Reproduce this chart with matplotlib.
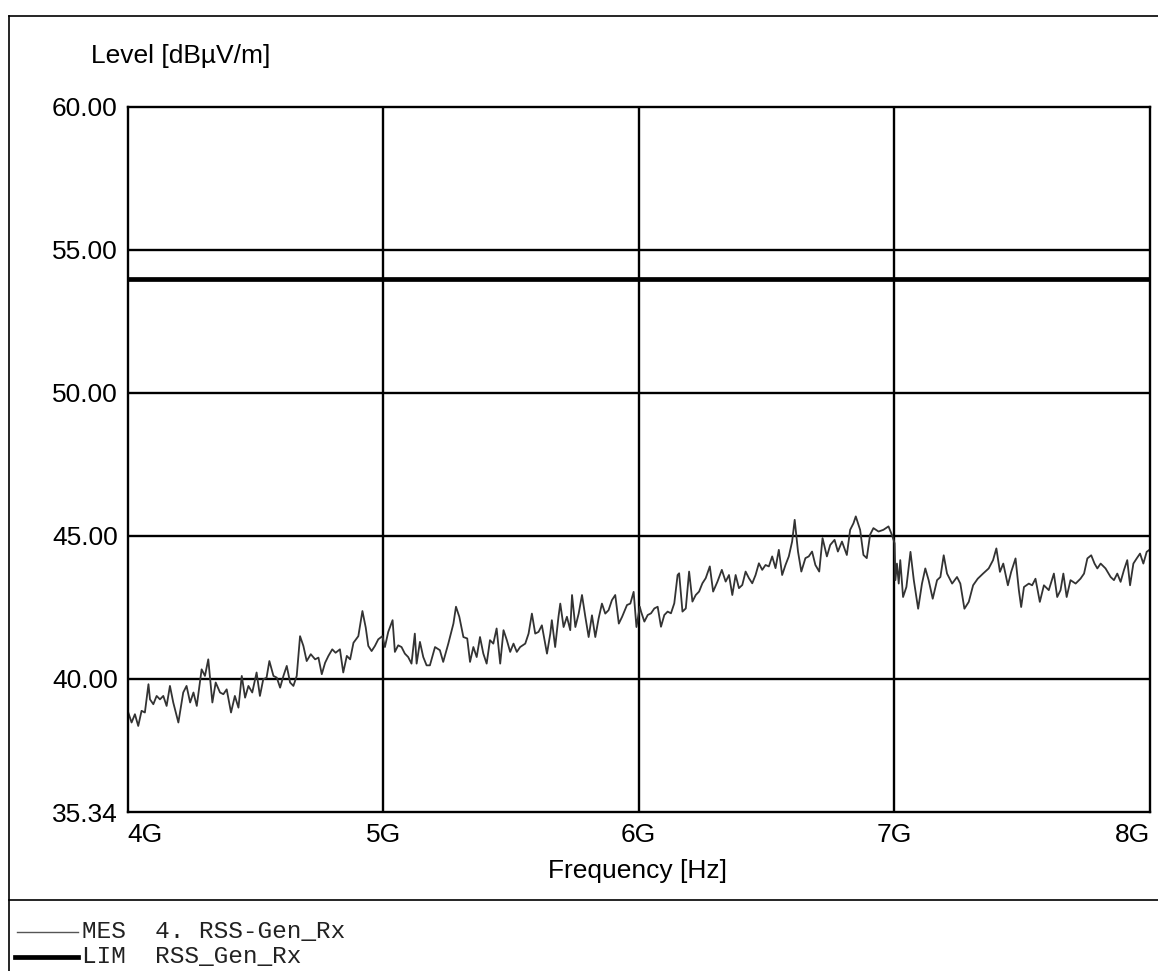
import numpy as np
import matplotlib.pyplot as plt
from matplotlib.lines import Line2D

# measured trace (MES), frequency in GHz, level in dBuV/m
freq_ghz = [
    4.003, 4.016, 4.029, 4.042, 4.055, 4.068, 4.082, 4.088, 4.101, 4.114,
    4.127, 4.140, 4.153, 4.166, 4.179, 4.199, 4.218, 4.231, 4.245, 4.258,
    4.271, 4.290, 4.303, 4.316, 4.332, 4.345, 4.362, 4.375, 4.388, 4.405,
    4.420, 4.434, 4.447, 4.460, 4.473, 4.488, 4.505, 4.518, 4.531, 4.544,
    4.555, 4.571, 4.584, 4.597, 4.610, 4.623, 4.636, 4.649, 4.662, 4.675,
    4.688, 4.701, 4.717, 4.734, 4.747, 4.760, 4.773, 4.786, 4.801, 4.814,
    4.831, 4.844, 4.858, 4.871, 4.884, 4.903, 4.919, 4.932, 4.942, 4.955,
    4.968, 4.981, 4.997,
    5.007, 5.020, 5.037, 5.046, 5.059, 5.072, 5.085, 5.098, 5.111, 5.124,
    5.131, 5.144, 5.157, 5.170, 5.183, 5.203, 5.222, 5.235, 5.255, 5.275,
    5.285, 5.298, 5.314, 5.329, 5.340, 5.353, 5.366, 5.379, 5.392, 5.405,
    5.418, 5.431, 5.444, 5.458, 5.471, 5.484, 5.497, 5.510, 5.523, 5.536,
    5.556, 5.569, 5.582, 5.595, 5.608, 5.621, 5.641, 5.654, 5.660, 5.673,
    5.686, 5.693, 5.706, 5.719, 5.732, 5.739, 5.752, 5.765, 5.778, 5.791,
    5.804, 5.817, 5.830, 5.843, 5.856, 5.869, 5.882, 5.895, 5.908, 5.922,
    5.935, 5.954, 5.967, 5.980, 5.991, 6.004,
    6.009, 6.022, 6.035, 6.048, 6.061, 6.074, 6.087, 6.100, 6.113, 6.126,
    6.139, 6.152, 6.158, 6.171, 6.184, 6.197, 6.210, 6.223, 6.236, 6.249,
    6.262, 6.278, 6.291, 6.308, 6.325, 6.340, 6.353, 6.366, 6.379, 6.392,
    6.405, 6.418, 6.431, 6.444, 6.457, 6.470, 6.483, 6.496, 6.509, 6.522,
    6.535, 6.548, 6.561, 6.574, 6.587, 6.600, 6.610, 6.623, 6.636, 6.652,
    6.665, 6.678, 6.691, 6.706, 6.719, 6.736, 6.749, 6.766, 6.779, 6.795,
    6.814, 6.827, 6.840, 6.849, 6.866, 6.879, 6.892, 6.905, 6.918, 6.938,
    6.957, 6.977, 6.990, 6.999,
    7.001, 7.004, 7.010, 7.017, 7.023, 7.034, 7.047, 7.063, 7.076, 7.093,
    7.108, 7.121, 7.134, 7.150, 7.167, 7.180, 7.193, 7.206, 7.226, 7.245,
    7.258, 7.274, 7.291, 7.308, 7.326, 7.347, 7.369, 7.386, 7.399, 7.413,
    7.426, 7.444, 7.457, 7.474, 7.487, 7.496, 7.507, 7.526, 7.539, 7.552,
    7.569, 7.585, 7.604, 7.624, 7.637, 7.650, 7.661, 7.674, 7.689, 7.709,
    7.728, 7.742, 7.755, 7.770, 7.783, 7.794, 7.807, 7.826, 7.846, 7.859,
    7.872, 7.885, 7.898, 7.911, 7.922, 7.935, 7.948, 7.961, 7.974, 7.987,
    7.996,
]
level_mes = [
    38.82, 38.47, 38.76, 38.35, 38.88, 38.82, 39.81, 39.28, 39.11, 39.40,
    39.28, 39.40, 39.05, 39.75, 39.17, 38.47, 39.52, 39.75, 39.17, 39.52,
    39.05, 40.33, 40.10, 40.68, 39.17, 39.87, 39.52, 39.46, 39.63, 38.82,
    39.40, 38.99, 40.10, 39.34, 39.75, 39.52, 40.22, 39.40, 39.98, 40.04,
    40.62, 40.10, 40.04, 39.69, 40.10, 40.45, 39.87, 39.75, 40.10, 41.49,
    41.15, 40.62, 40.86, 40.68, 40.74, 40.16, 40.56, 40.80, 41.03, 40.91,
    41.03, 40.22, 40.80, 40.68, 41.26, 41.49, 42.37, 41.79, 41.15, 40.97,
    41.15, 41.38, 41.49,
    41.11, 41.64, 42.05, 40.94, 41.17, 41.11, 40.88, 40.76, 40.53, 41.58,
    40.53, 41.29, 40.76, 40.47, 40.47, 41.11, 41.00, 40.59, 41.23, 41.93,
    42.52, 42.17, 41.46, 41.41, 40.59, 41.11, 40.76, 41.46, 40.88, 40.53,
    41.35, 41.23, 41.76, 40.53, 41.70, 41.35, 40.94, 41.23, 40.94, 41.11,
    41.23, 41.58, 42.28, 41.58, 41.64, 41.87, 40.88, 41.58, 42.05, 41.11,
    42.17, 42.63, 41.81, 42.17, 41.70, 42.93, 41.81, 42.28, 42.93, 42.17,
    41.46, 42.22, 41.46, 42.11, 42.63, 42.28, 42.40, 42.75, 42.93, 41.93,
    42.17, 42.58, 42.63, 43.04, 41.81, 42.52,
    42.35, 42.00, 42.23, 42.29, 42.46, 42.52, 41.82, 42.23, 42.35, 42.29,
    42.64, 43.63, 43.69, 42.35, 42.46, 43.75, 42.70, 42.93, 43.05, 43.34,
    43.52, 43.93, 43.05, 43.40, 43.81, 43.40, 43.63, 42.93, 43.63, 43.17,
    43.28, 43.75, 43.52, 43.34, 43.63, 44.04, 43.81, 43.98, 43.93, 44.28,
    43.87, 44.51, 43.63, 43.98, 44.28, 44.80, 45.56, 44.45, 43.75, 44.22,
    44.28, 44.45, 43.98, 43.75, 44.92, 44.28, 44.68, 44.86, 44.45, 44.80,
    44.33, 45.21, 45.44, 45.68, 45.21, 44.33, 44.22, 45.04, 45.27, 45.15,
    45.21, 45.33, 45.04, 44.80,
    44.73, 43.45, 44.03, 43.33, 44.15, 42.86, 43.21, 44.44, 43.45, 42.45,
    43.33, 43.86, 43.45, 42.80, 43.45, 43.56, 44.32, 43.68, 43.33, 43.56,
    43.33, 42.45, 42.69, 43.27, 43.50, 43.68, 43.86, 44.15, 44.56, 43.74,
    44.03, 43.27, 43.74, 44.21, 43.10, 42.51, 43.21, 43.33, 43.27, 43.50,
    42.69, 43.27, 43.10, 43.68, 42.86, 43.10, 43.68, 42.86, 43.45, 43.33,
    43.50, 43.68, 44.21, 44.32, 44.03, 43.86, 44.03, 43.86, 43.56, 43.45,
    43.68, 43.39, 43.80, 44.15, 43.27, 44.03, 44.21, 44.38, 44.03, 44.44,
    44.50,
]

# limit line (LIM)
lim_freq_ghz = [4.0, 8.0]
lim_level = [54.0, 54.0]

y_ticks = [35.34, 40.0, 45.0, 50.0, 55.0, 60.0]
y_labels = ["35.34", "40.00", "45.00", "50.00", "55.00", "60.00"]
x_ticks = [4, 5, 6, 7, 8]
x_labels = ["4G", "5G", "6G", "7G", "8G"]

W, H = 1158, 971
fig = plt.figure(figsize=(W / 100, H / 100), dpi=100)
plt.rcParams['font.family'] = ['Liberation Sans', 'DejaVu Sans']

ax = fig.add_axes([127.5 / W, 1 - 812 / H, (1150 - 127.5) / W, (812 - 107) / H])
ax.set_xlim(4, 8)
ax.set_ylim(35.34, 60)

for g in [5, 6, 7]:
    ax.axvline(g, color='black', lw=1.7, zorder=1)
for lv in [40, 45, 50, 55]:
    ax.axhline(lv, color='black', lw=1.7, zorder=1)

ax.plot(lim_freq_ghz, lim_level, color='black', lw=3.4, zorder=3)
ax.plot(freq_ghz, level_mes, color='#333333', lw=1.3, zorder=2)

for s in ax.spines.values():
    s.set_linewidth(1.7)

ax.set_yticks(y_ticks)
ax.set_yticklabels(y_labels, fontsize=19)
ax.set_xticks(x_ticks)
ax.set_xticklabels(x_labels, fontsize=19)
ax.tick_params(axis='y', length=0, pad=7)
ax.tick_params(axis='x', length=0, pad=8)
xl = ax.get_xticklabels()
xl[0].set_ha('left')
xl[-1].set_ha('right')

# axis titles placed like the analyser printout
fig.text(91 / W, 1 - 63 / H, "Level [dB\u00b5V/m]", fontsize=19, va='baseline', ha='left')
fig.text(638 / W, 1 - 878 / H, "Frequency [Hz]", fontsize=19, va='baseline', ha='center')

# frame and separator
frame_kw = dict(color='black', lw=1.2, transform=fig.transFigure)
fig.add_artist(Line2D([9 / W, 1], [1 - 16 / H, 1 - 16 / H], **frame_kw))
fig.add_artist(Line2D([9 / W, 9 / W], [1 - 16 / H, 0], **frame_kw))
fig.add_artist(Line2D([9 / W, 1], [1 - 900 / H, 1 - 900 / H], **frame_kw))

# legend block
fig.add_artist(Line2D([17 / W, 78 / W], [1 - 932 / H, 1 - 932 / H], color='#555555', lw=1.0,
                      transform=fig.transFigure))
fig.add_artist(Line2D([15 / W, 78 / W], [1 - 957 / H, 1 - 957 / H], color='black', lw=3.4,
                      transform=fig.transFigure))
fig.text(82 / W, 1 - 931 / H, "MES  4. RSS-Gen_Rx", family='Liberation Mono', fontsize=17.6,
         va='center', ha='left', color='#222222')
fig.text(82 / W, 1 - 956 / H, "LIM  RSS_Gen_Rx", family='Liberation Mono', fontsize=17.6,
         va='center', ha='left', color='#222222')

fig.savefig("out.png", dpi=100)
